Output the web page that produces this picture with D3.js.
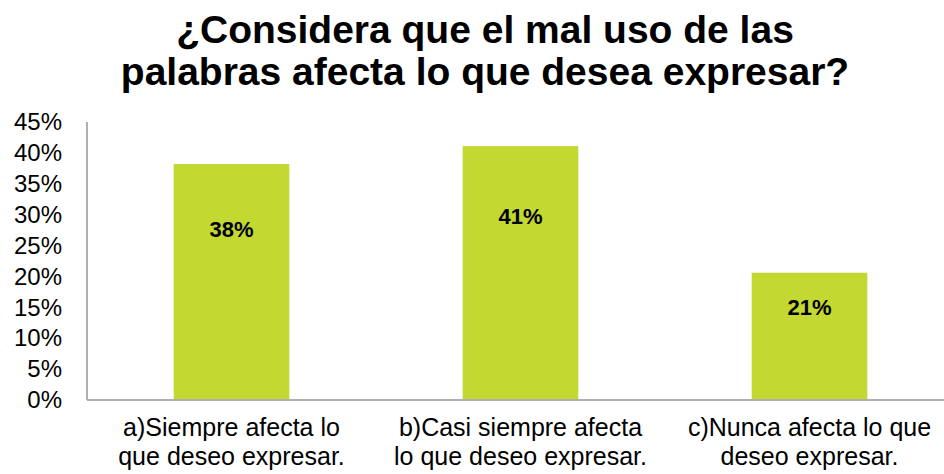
<!DOCTYPE html>
<html>
<head>
<meta charset="utf-8">
<script src="https://cdn.jsdelivr.net/npm/d3@7"></script>
<style>
  body { margin: 0; background: #fff; }
  svg { display: block; font-family: Arial, "Liberation Sans", sans-serif; }
  .y.axis text { font-size: 24px; fill: #000; }
  .x.axis text { font-size: 25px; fill: #000; }
  .axis path, .axis line { stroke: #b0b0b0; stroke-width: 2; }
</style>
</head>
<body>
<div id="chart"></div>
<script>
var titleLines = ["¿Considera que el mal uso de las", "palabras afecta lo que desea expresar?"];
var categories = ["a", "b", "c"];
var categoryLines = [
  ["a)Siempre afecta lo", "que deseo expresar."],
  ["b)Casi siempre afecta", "lo que deseo expresar."],
  ["c)Nunca afecta lo que", "deseo expresar."]
];
var values = [0.382, 0.411, 0.206];
var labels = ["38%", "41%", "21%"];
var yTicks = [0, 0.05, 0.10, 0.15, 0.20, 0.25, 0.30, 0.35, 0.40, 0.45];

var W = 944, H = 474;
var margin = {top: 122, right: -10, bottom: 74, left: 87},
    width = W - margin.left - margin.right,
    height = H - margin.top - margin.bottom;

var x = d3.scaleBand()
    .domain(categories)
    .range([0, width])
    .paddingInner(0.6)
    .paddingOuter(0.3);

var y = d3.scaleLinear()
    .domain([0, 0.45])
    .range([height, 0]);

var svg = d3.select("#chart").append("svg")
    .attr("width", W)
    .attr("height", H);

svg.append("text")
    .attr("text-anchor", "middle")
    .attr("font-weight", "bold")
    .attr("font-size", "39px")
  .selectAll("tspan")
    .data(titleLines)
  .enter().append("tspan")
    .attr("x", 485)
    .attr("y", function(d, i) { return 43 + i * 42; })
    .text(function(d) { return d; });

var g = svg.append("g")
    .attr("transform", "translate(" + margin.left + "," + margin.top + ")");

var yAxis = g.append("g")
    .attr("class", "y axis")
    .call(d3.axisLeft(y).tickValues(yTicks).tickSize(0).tickPadding(25)
      .tickFormat(function(d) { return Math.round(d * 100) + "%"; }));
yAxis.select(".domain").attr("d", "M0,0V" + height);

g.selectAll(".bar")
    .data(values)
  .enter().append("rect")
    .attr("class", "bar")
    .attr("x", function(d, i) { return x(categories[i]); })
    .attr("y", function(d) { return y(d); })
    .attr("width", x.bandwidth())
    .attr("height", function(d) { return height - y(d); })
    .attr("fill", "#c3d830");

var xAxis = g.append("g")
    .attr("class", "x axis")
    .attr("transform", "translate(0," + height + ")")
    .call(d3.axisBottom(x).tickSize(0).tickFormat(""));
xAxis.select(".domain").attr("d", "M0,0H" + width);

// two-line category labels
xAxis.selectAll(".tick").each(function(d, i) {
  d3.select(this).selectAll("text.cat")
      .data(categoryLines[i])
    .enter().append("text")
      .attr("class", "cat")
      .attr("text-anchor", "middle")
      .attr("fill", "#000")
      .attr("x", 0)
      .attr("y", function(l, j) { return 36 + j * 29; })
      .text(function(l) { return l; });
});

g.selectAll(".label")
    .data(values)
  .enter().append("text")
    .attr("class", "label")
    .attr("x", function(d, i) { return x(categories[i]) + x.bandwidth() / 2; })
    .attr("y", function(d) { return y(d * 0.725); })
    .attr("dy", "0.35em")
    .attr("text-anchor", "middle")
    .attr("font-weight", "bold")
    .attr("font-size", "22px")
    .text(function(d, i) { return labels[i]; });
</script>
</body>
</html>
